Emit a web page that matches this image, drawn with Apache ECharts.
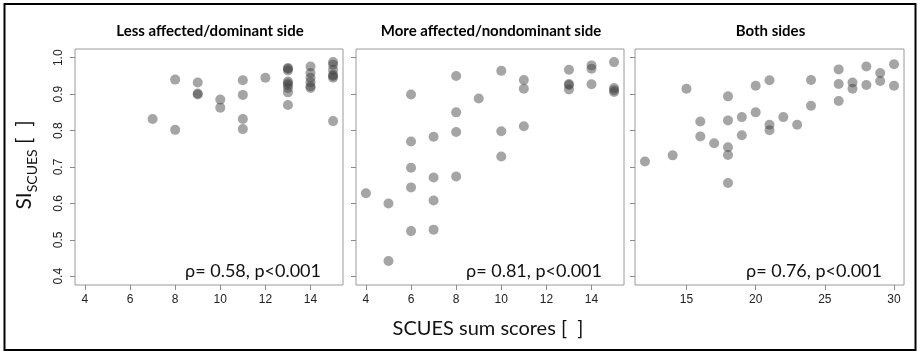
<!DOCTYPE html>
<html><head><meta charset="utf-8">
<script src="https://cdn.jsdelivr.net/npm/echarts@6/dist/echarts.min.js"></script>
<style>html,body{margin:0;padding:0;background:#fff}#c{width:921px;height:357px}</style>
</head><body><div id="c"></div>
<script>
// Panel titles and annotations
const panelTitles = ['Less affected/dominant side', 'More affected/nondominant side', 'Both sides'];
const panelNotes = ['ρ= 0.58, p<0.001', 'ρ= 0.81, p<0.001', 'ρ= 0.76, p<0.001'];
const yTicks = [0.4, 0.5, 0.6, 0.7, 0.8, 0.9, 1.0];
const xTicksA = [4, 6, 8, 10, 12, 14];
const xTicksB = [15, 20, 25, 30];

// Panel 1: less affected / dominant side
const p1x = [7,8,8,9,9,9,10,10,11,11,11,11,12,13,13,13,13,13,13,13,13,13,14,14,14,14,14,14,15,15,15,15,15,15,15];
const p1y = [0.832,0.940,0.802,0.932,0.902,0.899,0.885,0.863,0.938,0.898,0.832,0.804,0.945,0.972,0.970,0.965,0.935,0.930,0.925,0.917,0.905,0.870,0.976,0.958,0.945,0.933,0.922,0.917,0.988,0.981,0.967,0.953,0.950,0.945,0.826];
// Panel 2: more affected / nondominant side
const p2x = [4,5,5,6,6,6,6,6,7,7,7,7,8,8,8,8,9,10,10,10,11,11,11,13,13,13,13,14,14,14,15,15,15,15];
const p2y = [0.628,0.600,0.442,0.899,0.770,0.698,0.644,0.524,0.783,0.671,0.608,0.528,0.950,0.850,0.796,0.674,0.888,0.964,0.798,0.729,0.939,0.915,0.812,0.967,0.928,0.925,0.913,0.979,0.970,0.927,0.988,0.917,0.911,0.906];
// Panel 3: both sides
const p3x = [12,14,15,16,16,17,18,18,18,18,18,19,19,20,20,21,21,21,22,23,24,24,26,26,26,27,27,28,28,29,29,30,30];
const p3y = [0.715,0.732,0.915,0.825,0.784,0.765,0.894,0.828,0.754,0.733,0.656,0.837,0.787,0.923,0.850,0.938,0.816,0.801,0.837,0.816,0.939,0.868,0.968,0.928,0.881,0.932,0.915,0.976,0.925,0.958,0.936,0.982,0.923];

const zip = (xs, ys) => xs.map((v, i) => [v, ys[i]]);
const panels = [zip(p1x, p1y), zip(p2x, p2y), zip(p3x, p3y)];

const grids = [
  {left: 75, top: 49, width: 268, height: 236},
  {left: 356, top: 49, width: 268, height: 236},
  {left: 635, top: 49, width: 269, height: 236}
];
const xRanges = [[3.56, 15.44], [3.56, 15.44], [11.28, 30.72]];
const xTickSets = [xTicksA, xTicksA, xTicksB];
const tickColor = '#8a8a8a';
const labelFont = 'Liberation Sans';

const option = {
  animation: false,
  backgroundColor: '#fff',
  grid: grids.map(g => Object.assign({show: true, borderColor: '#9a9a9a', borderWidth: 1, backgroundColor: '#fff'}, g)),
  xAxis: grids.map((g, i) => ({
    type: 'value', gridIndex: i, min: xRanges[i][0], max: xRanges[i][1],
    axisLine: {show: false},
    splitLine: {show: false},
    axisTick: {show: true, length: 5, lineStyle: {color: tickColor}, customValues: xTickSets[i]},
    axisLabel: {customValues: xTickSets[i], color: '#222', fontSize: 12, fontFamily: labelFont, margin: 9}
  })),
  yAxis: grids.map((g, i) => ({
    type: 'value', gridIndex: i, min: 0.376, max: 1.024,
    axisLine: {show: false},
    splitLine: {show: false},
    axisTick: {show: true, length: 5, lineStyle: {color: tickColor}, customValues: yTicks},
    axisLabel: {show: i === 0, customValues: yTicks, rotate: 90, color: '#222', fontSize: 12, fontFamily: labelFont, margin: 10,
      formatter: v => v.toFixed(1)}
  })),
  series: panels.map((d, i) => ({
    type: 'scatter', xAxisIndex: i, yAxisIndex: i, data: d, symbolSize: 10,
    itemStyle: {color: 'rgba(60,60,60,0.58)'}
  })),
  graphic: [
    {type: 'rect', shape: {x: 4.5, y: 4, width: 911, height: 346}, style: {fill: 'none', stroke: '#000', lineWidth: 2}, silent: true},
    ...grids.map((g, i) => ({
      type: 'text', x: g.left + g.width / 2 + 1, y: 31,
      style: {text: panelTitles[i], font: 'bold 15px Lato', fill: '#000', textAlign: 'center', textVerticalAlign: 'middle'}
    })),
    ...grids.map((g, i) => ({
      type: 'text', x: g.left + g.width - 22, y: 271,
      style: {text: panelNotes[i], font: '18px Lato', fill: '#111', textAlign: 'right', textVerticalAlign: 'middle'}
    })),
    {type: 'text', x: 488, y: 329,
      style: {text: 'SCUES sum scores [  ]', font: '20px Lato', fill: '#111', textAlign: 'center', textVerticalAlign: 'middle'}},
    {type: 'text', x: 24, y: 165, rotation: Math.PI / 2,
      style: {text: '{a|SI}{b|SCUES}{a| [  ]}', textAlign: 'center', textVerticalAlign: 'middle', fill: '#111',
        rich: {a: {fontSize: 21, fontFamily: 'Lato', fill: '#111', lineHeight: 30, verticalAlign: 'middle'},
               b: {fontSize: 14, fontFamily: 'Lato', fill: '#111', lineHeight: 30, verticalAlign: 'bottom'}}}}
  ]
};
const chart = echarts.init(document.getElementById('c'), null, {renderer: 'canvas'});
chart.setOption(option);
</script>
</body></html>
